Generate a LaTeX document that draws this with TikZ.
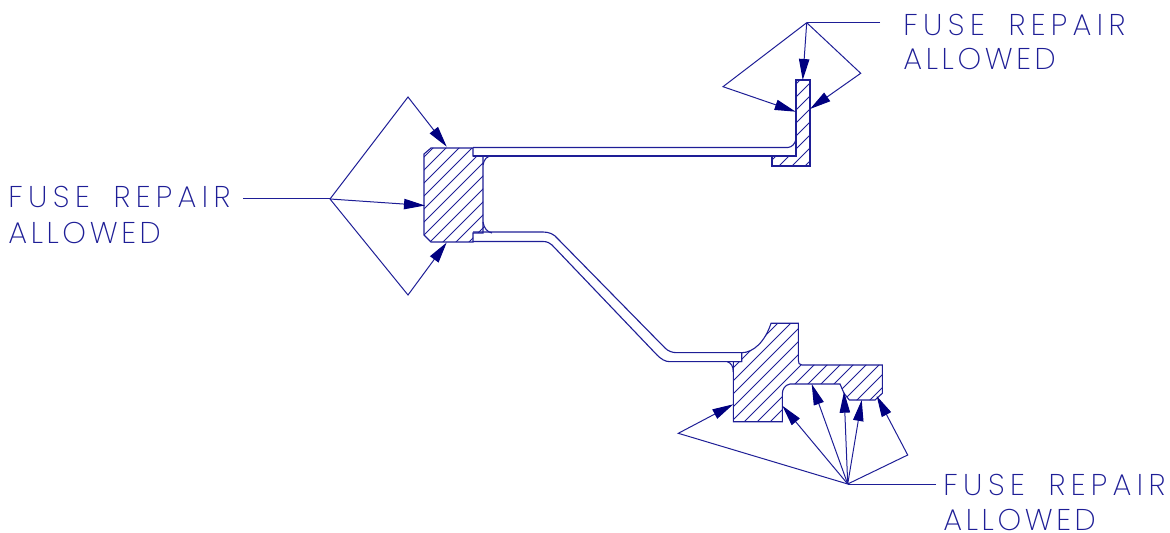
\documentclass[tikz,border=0pt]{standalone}
\usepackage{fontspec}
\usetikzlibrary{arrows.meta}
\newfontfamily\cadfont[LetterSpace=12]{Poppins ExtraLight}
\newfontfamily\cadwide[LetterSpace=18]{Poppins ExtraLight}
\definecolor{cadline}{RGB}{30,30,150}
\definecolor{cadhead}{RGB}{0,0,128}
\tikzset{
  outline/.style={draw=cadline,line width=0.55pt,line join=miter},
  hatchline/.style={draw=cadline,line width=0.38pt},
  leader/.style={draw=cadline,line width=0.5pt,-{Triangle[length=10.5pt,width=5.2pt,color=cadhead,fill=cadhead]}},
  plainleader/.style={draw=cadline,line width=0.5pt},
  cadtext/.style={anchor=base west,inner sep=0pt,text=cadline,font=\fontsize{15pt}{15pt}\cadfont},
  cadwidetext/.style={anchor=base west,inner sep=0pt,text=cadline,font=\fontsize{15pt}{15pt}\cadwide}
}
\newcommand{\hatchfill}{\foreach \c in {9,22,...,1440}{\draw[hatchline] (\c,0)--(\c-600,600);}}
\newcommand{\fuserepair}{FUSE\hspace{5pt} REPAIR}
\begin{document}
\begin{tikzpicture}[x=0.5pt,y=-0.5pt]
\useasboundingbox (0,0) rectangle (1170,533);
% block
\def\blockpath{(431,148)--(473,148)--(473,156)--(483,156)--(483,233)--(473,233)--(473,242)--(431,242)--(424,235)--(424,154)--cycle}
\begin{scope}\clip \blockpath; \hatchfill \end{scope}
\draw[outline] \blockpath;
\begin{scope}\clip (483,222) .. controls (484,228) and (487,232) .. (492,233)--(483,233)--cycle; \hatchfill \end{scope}
\draw[outline] (483,165) .. controls (484,159) and (487,156) .. (492,156);
\draw[outline] (483,222) .. controls (484,228) and (487,232) .. (492,233);
% upper web
\draw[outline] (473,147.5)--(788,147.5) .. controls (792,147) and (795,144) .. (796,139);
\draw[outline] (473,156)--(796,156);
% upper flange
\def\flangepath{(796,80)--(810,80)--(810,166)--(772,166)--(772,156)--(796,156)--cycle}
\begin{scope}\clip \flangepath; \hatchfill \end{scope}
\draw[outline] \flangepath;
% lower web
\draw[outline] (473,232) -- (543,232) .. controls (549,232) and (554,234) .. (558,239) -- (665,348) .. controls (668,351) and (672,352.7) .. (677,352.7) -- (742,352.7);
\draw[outline] (473,241.5) -- (543,241.5) .. controls (547,241.5) and (550,243) .. (552,245) -- (657,355) .. controls (661,359) and (665,361.7) .. (670,361.7) -- (741.7,361.7);
% lower body
\def\bodypath{(733.3,421.7)--(733.3,361.7)--(741.7,361.7)--(741.7,352.7) .. controls (753,352.7) and (765,342) .. (771,323.3)--(798.3,323.3)--(798.3,360) .. controls (798.3,363) and (799,365) .. (802,365)--(882.3,365)--(882.3,393.3)--(875,400)--(849.3,400)--(844,393.3)--(840,384)--(790,384) .. controls (785,385) and (782.3,389) .. (782.3,394)--(782.3,421.7)--cycle}
\begin{scope}\clip \bodypath; \hatchfill \end{scope}
\draw[outline] \bodypath;
\draw[outline] (727.3,361.7) .. controls (731,363) and (733.3,366) .. (733.3,372);
% coordinates of leaders
\coordinate (hubL) at (330,199);
\coordinate (endL) at (243,199);
\coordinate (bendLa) at (408,97);
\coordinate (tipLa) at (446.7,146.7);
\coordinate (tipLb) at (425,205.5);
\coordinate (bendLc) at (408,295);
\coordinate (tipLc) at (446.7,242.5);
\coordinate (hubT) at (806.7,22.7);
\coordinate (endT) at (880,22.7);
\coordinate (bendTa) at (723,86.7);
\coordinate (tipTa) at (795.7,111.7);
\coordinate (tipTb) at (802.7,80);
\coordinate (bendTc) at (860.7,73.3);
\coordinate (tipTc) at (810,109);
\coordinate (hubB) at (847.7,484);
\coordinate (endB) at (936,484);
\coordinate (bendBa) at (678.3,433.3);
\coordinate (tipBa) at (733.3,404.3);
\coordinate (tipBb) at (782.3,405.7);
\coordinate (tipBc) at (811.7,384);
\coordinate (tipBd) at (844,391.7);
\coordinate (tipBe) at (861.7,400);
\coordinate (bendBf) at (907.7,455);
\coordinate (tipBf) at (876.7,396);
\draw[plainleader] (endL)--(hubL);
\draw[leader] (hubL)--(bendLa)--(tipLa);
\draw[leader] (hubL)--(tipLb);
\draw[leader] (hubL)--(bendLc)--(tipLc);
\draw[plainleader] (endT)--(hubT);
\draw[leader] (hubT)--(bendTa)--(tipTa);
\draw[leader] (hubT)--(tipTb);
\draw[leader] (hubT)--(bendTc)--(tipTc);
\draw[plainleader] (endB)--(hubB);
\draw[leader] (hubB)--(bendBa)--(tipBa);
\draw[leader] (hubB)--(tipBb);
\draw[leader] (hubB)--(tipBc);
\draw[leader] (hubB)--(tipBd);
\draw[leader] (hubB)--(tipBe);
\draw[leader] (hubB)--(bendBf)--(tipBf);
% labels
\node[cadwidetext] (labelLa) at (8,208) {\fuserepair};
\node[cadtext] (labelLb) at (8,244) {ALLOWED};
\node[cadwidetext] (labelTa) at (903,35.7) {\fuserepair};
\node[cadtext] (labelTb) at (903,70) {ALLOWED};
\node[cadwidetext] (labelBa) at (943,495.5) {\fuserepair};
\node[cadtext] (labelBb) at (943,530) {ALLOWED};
\end{tikzpicture}
\end{document}
